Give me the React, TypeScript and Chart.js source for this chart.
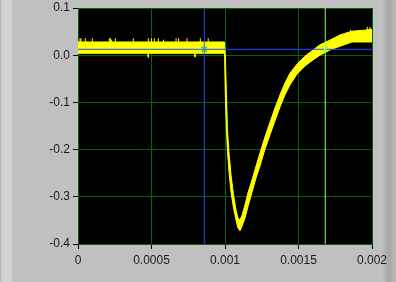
import React, { useEffect, useRef } from 'react';
import { Chart, registerables } from 'chart.js';

Chart.register(...registerables);

// Signal envelope (seconds / volts)
const timeS = [0, 0.000997, 0.001002, 0.00101, 0.001017, 0.001027, 0.001041, 0.001058, 0.001075, 0.001088, 0.001102, 0.001116, 0.001136, 0.001156, 0.001184, 0.001211, 0.001238, 0.001272, 0.001306, 0.00134, 0.001374, 0.001408, 0.001442, 0.00149, 0.001544, 0.001599, 0.001646, 0.001714, 0.001782, 0.001864, 0.001952, 0.002];
const upperV = [0.028, 0.028, 0.0004, -0.084, -0.158, -0.205, -0.254, -0.296, -0.328, -0.345, -0.349, -0.339, -0.317, -0.292, -0.264, -0.235, -0.207, -0.173, -0.142, -0.112, -0.084, -0.059, -0.038, -0.019, -0.002, 0.011, 0.022, 0.032, 0.043, 0.051, 0.053, 0.055];
const lowerV = [0.004, 0.004, -0.084, -0.158, -0.205, -0.247, -0.29, -0.324, -0.349, -0.366, -0.372, -0.362, -0.345, -0.321, -0.29, -0.26, -0.235, -0.199, -0.169, -0.139, -0.11, -0.084, -0.063, -0.04, -0.023, -0.01, 0, 0.011, 0.019, 0.028, 0.028, 0.028];

// Noise spikes
const spikeX = [0.0000136, 0.0000204, 0.0000497, 0.0000973, 0.000213, 0.00022, 0.000229, 0.000254, 0.000376, 0.000478, 0.000499, 0.000519, 0.000546, 0.000582, 0.000667, 0.000684, 0.000741, 0.000832, 0.000886, 0.000478, 0.000796, 0.001855, 0.001968, 0.001986];
const spikeFrom = [0.028, 0.028, 0.028, 0.028, 0.028, 0.028, 0.028, 0.028, 0.028, 0.028, 0.028, 0.028, 0.028, 0.028, 0.028, 0.028, 0.028, 0.028, 0.028, 0.004, 0.004, 0.05, 0.052, 0.052];
const spikeTo = [0.036, 0.036, 0.036, 0.036, 0.036, 0.036, 0.033, 0.036, 0.036, 0.036, 0.036, 0.036, 0.036, 0.033, 0.036, 0.036, 0.036, 0.036, 0.036, -0.0045, -0.004, 0.054, 0.06, 0.06];

// Cursors
const cursorBlueX = 0.000859;
const cursorGreenX = 0.001682;
const cursorY = 0.0125;

// Axes
const xMin = 0, xMax = 0.002, xStep = 0.0005;
const yMin = -0.4, yMax = 0.1, yStep = 0.1;
const xTickValues = [0, 0.0005, 0.001, 0.0015, 0.002];
const xTickLabels = ['0', '0.0005', '0.001', '0.0015', '0.002'];
const yTickValues = [-0.4, -0.3, -0.2, -0.1, 0, 0.1];
const yTickLabels = ['-0.4', '-0.3', '-0.2', '-0.1', '0.0', '0.1'];

const YELLOW = '#ffff00';
const GRID = '#066406';
const BLUE = '#1f50ff';
const LGREEN = '#8cff5a';
const FONT = { family: "'Liberation Sans', Arial, sans-serif", size: 12 };

function lookup(vals: number[], labels: string[], v: number) {
  for (let i = 0; i < vals.length; i++) if (Math.abs(vals[i] - v) < 1e-9) return labels[i];
  return '';
}

const bgPlugin = {
  id: 'plotBg',
  beforeDraw(chart: any) {
    const { ctx, chartArea: a } = chart;
    ctx.save();
    ctx.fillStyle = '#000';
    ctx.fillRect(a.left, a.top, a.right - a.left, a.bottom - a.top);
    ctx.restore();
  },
};

export default function App() {
  const ref = useRef<HTMLCanvasElement | null>(null);

  useEffect(() => {
    if (!ref.current) return;
    const spikePts: any[] = [];
    spikeX.forEach((x, i) => {
      spikePts.push({ x, y: spikeFrom[i] });
      spikePts.push({ x, y: spikeTo[i] });
      spikePts.push({ x, y: null });
    });
    const line = { pointRadius: 0, borderWidth: 1, tension: 0 };
    const chart = new Chart(ref.current, {
      type: 'line',
      data: {
        datasets: [
          { ...line, label: 'lower', data: timeS.map((x, i) => ({ x, y: lowerV[i] })), borderColor: YELLOW, fill: false, order: 6 },
          { ...line, label: 'upper', data: timeS.map((x, i) => ({ x, y: upperV[i] })), borderColor: YELLOW, backgroundColor: YELLOW, fill: '-1', order: 5 },
          { ...line, label: 'spikes', data: spikePts, borderColor: YELLOW, fill: false, spanGaps: false, order: 4 },
          { ...line, label: 'cursorH', data: [{ x: xMin, y: cursorY }, { x: xMax, y: cursorY }], borderColor: BLUE, fill: false, order: 3 },
          { ...line, label: 'cursorBlue', data: [{ x: cursorBlueX, y: yMin }, { x: cursorBlueX, y: yMax }], borderColor: BLUE, fill: false, order: 2 },
          { ...line, label: 'cursorGreen', data: [{ x: cursorGreenX, y: yMin }, { x: cursorGreenX, y: yMax }], borderColor: LGREEN, fill: false, order: 2 },
          {
            label: 'markers',
            data: [{ x: cursorBlueX, y: cursorY }, { x: cursorGreenX, y: cursorY }],
            showLine: false,
            pointStyle: 'crossRot',
            pointRadius: 3.5,
            pointBorderWidth: 1.5,
            pointBorderColor: ['#2fb090', LGREEN],
            pointBackgroundColor: 'transparent',
            order: 0,
          } as any,
        ],
      },
      options: {
        animation: false,
        responsive: false,
        events: [],
        layout: { padding: { top: 8, right: 24, left: 0, bottom: 0 } },
        plugins: { legend: { display: false }, tooltip: { enabled: false } },
        scales: {
          x: {
            type: 'linear',
            min: xMin,
            max: xMax,
            afterFit(scale: any) { scale.height = 38; scale.paddingLeft = 0; scale.paddingRight = 0; },
            ticks: {
              stepSize: xStep,
              autoSkip: false,
              maxRotation: 0,
              color: '#1a1a1a',
              font: FONT,
              padding: 4,
              callback: (v: any) => lookup(xTickValues, xTickLabels, Number(v)),
            },
            grid: { color: GRID, tickColor: '#000', tickLength: 5, lineWidth: 1 },
            border: { color: GRID },
          },
          y: {
            type: 'linear',
            min: yMin,
            max: yMax,
            afterFit(scale: any) { scale.width = 78; scale.paddingTop = 0; scale.paddingBottom = 0; },
            ticks: {
              stepSize: yStep,
              autoSkip: false,
              color: '#1a1a1a',
              font: FONT,
              padding: 3,
              callback: (v: any) => lookup(yTickValues, yTickLabels, Number(v)),
            },
            grid: { color: GRID, tickColor: '#000', tickLength: 5, lineWidth: 1 },
            border: { color: GRID },
          },
        },
      } as any,
      plugins: [bgPlugin],
    });
    return () => chart.destroy();
  }, []);

  return (
    <div style={{ position: 'fixed', left: 0, top: 0, width: 396, height: 282, background: '#c0c0c0', overflow: 'hidden' }}>
      <div style={{ position: 'absolute', left: 0, top: 0, width: 13, height: 282, background: 'linear-gradient(to right, #b4b4b4 0px, #bdbdbd 1px, #d3d3d3 2px, #d3d3d3 11px, #c6c6c6 12px, #c0c0c0 13px)' }} />
      <div style={{ position: 'absolute', left: 382, top: 0, width: 14, height: 282, background: 'linear-gradient(to right, #c0c0c0 0px, #b3b3b3 3px, #a8a8a8 6px, #ababab 9px, #b8b8b8 12px, #bcbcbc 14px)' }} />
      <canvas ref={ref} width={396} height={282} style={{ position: 'absolute', left: 0, top: 0, width: 396, height: 282 }} />
    </div>
  );
}
